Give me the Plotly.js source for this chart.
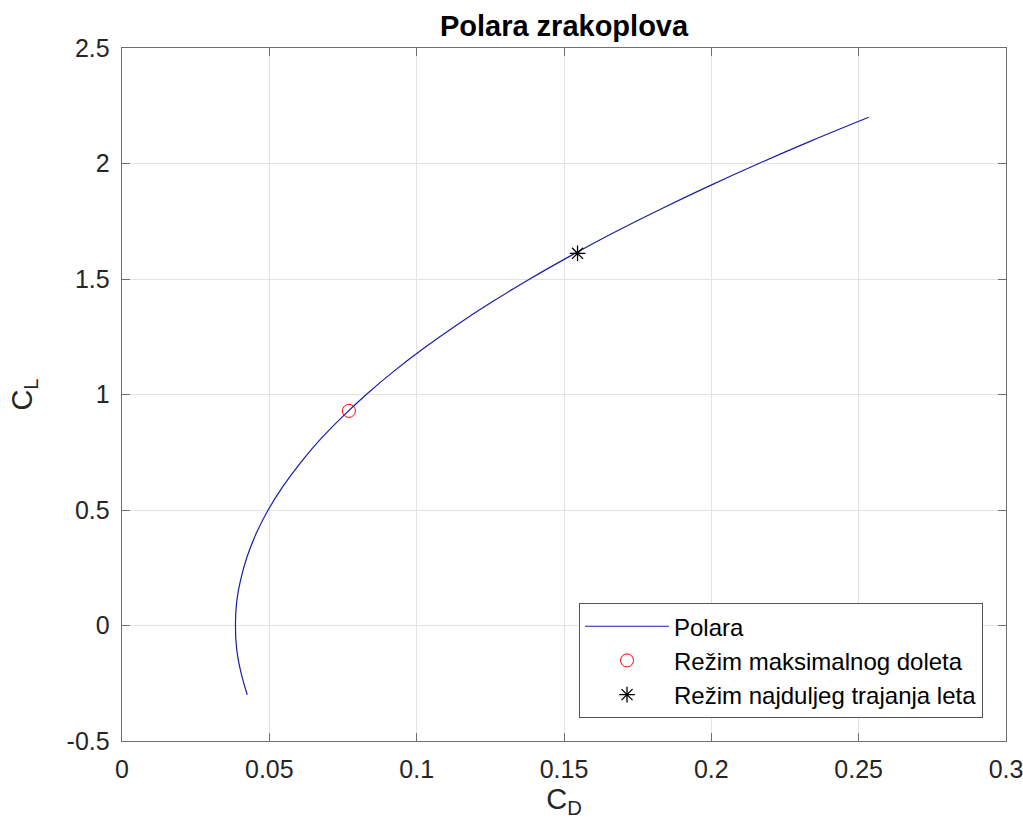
<!DOCTYPE html>
<html>
<head>
<meta charset="utf-8">
<script src="https://cdn.plot.ly/plotly-3.0.1.min.js"></script>
<style>html,body{margin:0;padding:0;background:#fff;}</style>
</head>
<body>
<div id="chart" style="width:1023px;height:833px;"></div>
<script>
// Polar curve
var polarCL = [-0.3,-0.2,-0.1,0,0.1,0.2,0.3,0.4,0.5,0.6,0.7,0.8,0.9,1.0,1.1,1.2,1.3,1.4,1.5,1.6,1.7,1.8,1.9,2.0,2.1,2.2];
var polarCD = [0.0425,0.0403,0.0389,0.0385,0.0389,0.0403,0.0425,0.0456,0.0496,0.0545,0.0603,0.0669,0.0745,0.0829,0.0922,0.1024,0.1135,0.1255,0.1384,0.1522,0.1668,0.1824,0.1988,0.2161,0.2343,0.2534];
// Special points
var maxRangeCD = [0.0770];
var maxRangeCL = [0.929];
var maxEnduranceCD = [0.1546];
var maxEnduranceCL = [1.611];
// Labels
var seriesNames = ['Polara', 'Režim maksimalnog doleta', 'Režim najduljeg trajanja leta'];
var xTicks = [0, 0.05, 0.1, 0.15, 0.2, 0.25, 0.3];
var xTickText = ['0', '0.05', '0.1', '0.15', '0.2', '0.25', '0.3'];
var yTicks = [-0.5, 0, 0.5, 1, 1.5, 2, 2.5];
var yTickText = ['-0.5', '0', '0.5', '1', '1.5', '2', '2.5'];

var FONT = 'Arial, "Liberation Sans", Helvetica, sans-serif';
var traces = [
  {x: polarCD, y: polarCL, type: 'scatter', mode: 'lines', name: seriesNames[0],
   line: {color: '#1c1ca8', width: 1.2, shape: 'spline'}},
  {x: maxRangeCD, y: maxRangeCL, type: 'scatter', mode: 'markers', name: seriesNames[1],
   marker: {symbol: 'circle-open', size: 13, color: '#ff0000', line: {width: 1, color: '#ff0000'}}},
  {x: maxEnduranceCD, y: maxEnduranceCL, type: 'scatter', mode: 'markers', name: seriesNames[2],
   marker: {symbol: 'asterisk-open', size: 13, color: '#000000', line: {width: 1.3, color: '#000000'}}}
];
var axisCommon = {
  showline: true, mirror: 'allticks', linecolor: '#6e6e6e', linewidth: 1.3,
  ticks: 'inside', ticklen: 8, tickcolor: '#6e6e6e', tickwidth: 1,
  showgrid: true, gridcolor: '#e3e3e3', gridwidth: 1, zeroline: false,
  ticklabeloverflow: 'allow',
  tickfont: {family: FONT, size: 25, color: '#262626'}
};
var layout = {
  width: 1023, height: 833,
  margin: {l: 122, r: 17, t: 48, b: 92},
  paper_bgcolor: '#ffffff', plot_bgcolor: '#ffffff',
  title: {text: '<b>Polara zrakoplova</b>', x: 0.5, xref: 'paper', y: 0.969, yanchor: 'middle',
          font: {family: FONT, size: 29, color: '#000000'}},
  xaxis: Object.assign({}, axisCommon, {
    range: [0, 0.3], tickvals: xTicks, ticktext: xTickText, ticklabelstandoff: 6,
    title: {text: 'C<sub>D</sub>', standoff: 6, font: {family: FONT, size: 29, color: '#262626'}}
  }),
  yaxis: Object.assign({}, axisCommon, {
    range: [-0.5, 2.5], tickvals: yTicks, ticktext: yTickText, ticklabelstandoff: 6,
    title: {text: 'C<sub>L</sub>', standoff: 25, font: {family: FONT, size: 29, color: '#262626'}}
  }),
  legend: {
    x: 0.974, y: 0.033, xanchor: 'right', yanchor: 'bottom',
    bgcolor: '#ffffff', bordercolor: '#555555', borderwidth: 1,
    font: {family: FONT, size: 24, color: '#000000'},
    tracegroupgap: 0, itemwidth: 84
  },
  showlegend: true
};
Plotly.newPlot('chart', traces, layout, {displayModeBar: false, staticPlot: true});
</script>
</body>
</html>
